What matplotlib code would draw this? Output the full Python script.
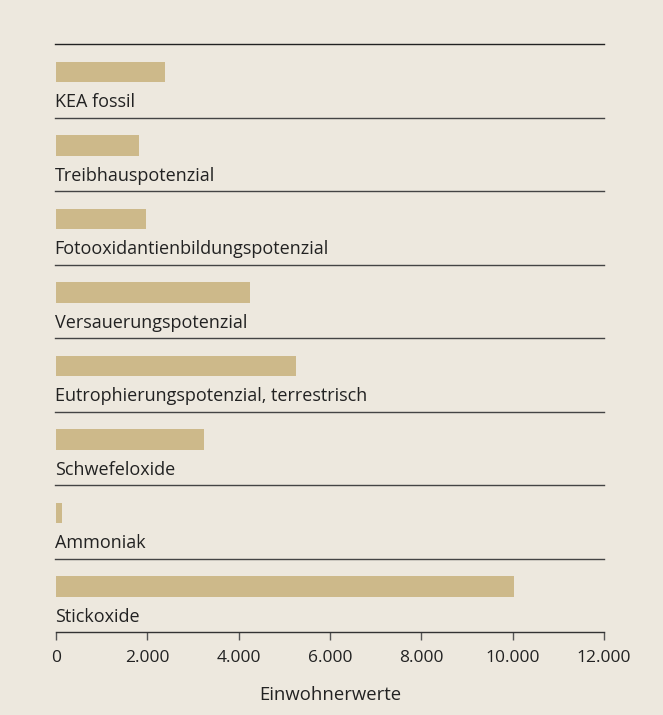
import matplotlib.pyplot as plt
from matplotlib.ticker import FuncFormatter

categories = [
    "KEA fossil",
    "Treibhauspotenzial",
    "Fotooxidantienbildungspotenzial",
    "Versauerungspotenzial",
    "Eutrophierungspotenzial, terrestrisch",
    "Schwefeloxide",
    "Ammoniak",
    "Stickoxide",
]
values = [2390, 1820, 1970, 4250, 5250, 3230, 130, 10030]
x_ticks = [0, 2000, 4000, 6000, 8000, 10000, 12000]

bg = "#ede8de"
bar_color = "#cdb98a"

plt.rcParams["font.family"] = ["Open Sans", "DejaVu Sans"]

fig = plt.figure(figsize=(6.63, 7.15), dpi=100, facecolor=bg)
ax = fig.add_axes([56 / 663, 1 - 632 / 715, 548 / 663, 588 / 715], facecolor=bg)

n = len(categories)
for i, (cat, val) in enumerate(zip(categories, values)):
    top = n - i
    ax.barh(top - 0.38, val, height=0.28, color=bar_color, left=0)
    ax.text(-30, top - 0.79, cat, ha="left", va="center", fontsize=13,
            color="#222222")
    # separator line at top of each band
    ax.axhline(top, color="#222222" if i == 0 else "#444444", lw=1.0,
               xmin=-0.002, xmax=1.0, clip_on=False)

ax.set_xlim(0, 12000)
ax.set_ylim(0, n)
ax.set_yticks([])
ax.set_xticks(x_ticks)
ax.xaxis.set_major_formatter(FuncFormatter(lambda v, p: f"{int(v):,}".replace(",", ".")))
ax.tick_params(axis="x", length=6, width=1.0, color="#555555", labelsize=12.5,
               labelcolor="#222222", pad=7)
for s in ["top", "right", "left"]:
    ax.spines[s].set_visible(False)
ax.spines["bottom"].set_color("#333333")
ax.spines["bottom"].set_linewidth(1.0)
ax.set_xlabel("Einwohnerwerte", fontsize=13.3, color="#222222", labelpad=14)

fig.savefig("out.png", dpi=100, facecolor=bg)
